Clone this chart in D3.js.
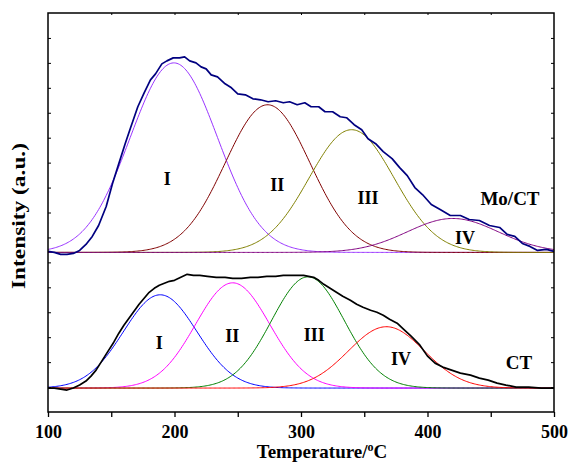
<!DOCTYPE html>
<html>
<head>
<meta charset="utf-8">
<script src="https://cdn.jsdelivr.net/npm/d3@7"></script>
<style>
  body { margin: 0; background: #fff; }
  text { font-family: "Liberation Serif", "Times New Roman", serif; font-weight: bold; }
</style>
</head>
<body>
<div class="chart-wrapper"></div>
<script>
// Mo/CT measured profile (temperature, intensity above its own baseline)
var moTemps = [100,105,110,115,120,125,130,135,140,146,151,156,161,165,171,176,181,185,190,194,199,204,208,212,217,221,225,229,234,240,245,250,256,262,268,274,280,286,291,297,303,308,314,319,325,331,336,342,348,353,359,365,372,378,384,390,396,403,410,418,426,433,441,449,457,463,469,475,481,487,494,500];
var moVals  = [1,0,-2,-2,-1,2,8,16,27,46,69,89,109,124,146,160,173,179,189,192,195,195,196,192,190,186,184,178,176,169,165,159,158,154,153,151,152,150,151,148,150,146,146,141,141,136,135,128,123,114,109,101,94,85,77,65,58,48,43,37,37,33,32,27,25,18,16,9,6,2,3,1];

// CT measured profile
var ctTemps = [100,105,110,115,120,125,130,134,138,142,147,152,156,160,164,168,172,176,180,184,188,192,196,200,205,210,215,220,226,233,240,246,253,260,266,273,280,286,294,302,306,310,314,318,323,328,333,339,344,349,355,360,365,370,376,381,387,394,400,406,412,419,426,434,441,448,455,462,470,480,490,500];
var ctVals  = [0,0,-1,-2,0,3,7,12,18,26,36,46,55,63,70,77,84,90,96,100,103,105,107,108,111,114,113,113,112,111,111,110,110,111,111,112,112,113,113,113,112,111,108,104,100,96,92,88,84,81,78,76,73,69,65,59,52,43,32,25,21,18,15,13,10,8,5,3,1,1,0,0];

// fitted peaks
var peakNames = ["I", "II", "III", "IV"];
var moCenters = [199.5, 273.6, 340, 420];
var moHeights = [190, 148, 123, 34];
var moWidths  = [34.5, 33.5, 33.6, 36];
var ctCenters = [188.7, 246, 305.5, 367.5];
var ctHeights = [93.5, 105.5, 111.5, 61.5];
var ctWidths  = [29, 29.3, 28.8, 30];

// panel baselines on the intensity axis
var moBase = 160, ctBase = 24;

// label anchors (temperature, intensity)
var moLabelT = [194.2, 281.2, 353, 429.7];
var moLabelV = [228, 222, 209, 168];
var ctLabelT = [187.9, 245.6, 310.4, 379.1];
var ctLabelV = [63, 70, 71, 47];

var xTicks = [100, 200, 300, 400, 500];

var moColor = "#000080";
var moPeakColors = ["#9933ff", "#800000", "#808000", "#800080"];
var ctColor = "#000000";
var ctPeakColors = ["#0000ff", "#ff00ff", "#008000", "#ff0000"];

var margin = {top: 13, right: 14, bottom: 51, left: 48},
    width = 568 - margin.left - margin.right,
    height = 463 - margin.top - margin.bottom;

var x = d3.scaleLinear().domain([100, 500]).range([0, width]);
var y = d3.scaleLinear().domain([0, 400]).range([height, 0]);

var svg = d3.select(".chart-wrapper").append("svg")
  .attr("width", 568)
  .attr("height", 463);

var g = svg.append("g")
  .attr("transform", "translate(" + margin.left + "," + margin.top + ")");

var line = d3.line()
  .x(function(d){ return x(d[0]); })
  .y(function(d){ return y(d[1]); });

function gaussian(t, c, h, w){
  return h * Math.exp(-(t - c) * (t - c) / (2 * w * w));
}

var grid = d3.range(100, 500.5, 1);

function drawPeaks(centers, heights, widths, colors, base){
  centers.forEach(function(c, i){
    var pts = grid.map(function(t){ return [t, base + gaussian(t, c, heights[i], widths[i])]; });
    g.append("path")
      .attr("d", line(pts))
      .attr("fill", "none")
      .attr("stroke", colors[i])
      .attr("stroke-width", 1);
  });
}

function drawProfile(temps, vals, base, color){
  var pts = temps.map(function(t, i){ return [t, base + vals[i]]; });
  g.append("path")
    .attr("d", line(pts))
    .attr("fill", "none")
    .attr("stroke", color)
    .attr("stroke-width", 1.7)
    .attr("stroke-linejoin", "round");
}

drawPeaks(moCenters, moHeights, moWidths, moPeakColors, moBase);
drawProfile(moTemps, moVals, moBase, moColor);
drawPeaks(ctCenters, ctHeights, ctWidths, ctPeakColors, ctBase);
drawProfile(ctTemps, ctVals, ctBase, ctColor);

// peak labels
function drawLabels(ts, vs){
  ts.forEach(function(t, i){
    g.append("text")
      .attr("x", x(t))
      .attr("y", y(vs[i]))
      .attr("text-anchor", "middle")
      .style("font-size", "18px")
      .text(peakNames[i]);
  });
}
drawLabels(moLabelT, moLabelV);
drawLabels(ctLabelT, ctLabelV);

g.append("text")
  .attr("x", x(465.2)).attr("y", y(208))
  .attr("text-anchor", "middle")
  .style("font-size", "19px")
  .text("Mo/CT");

g.append("text")
  .attr("x", x(472.3)).attr("y", y(43))
  .attr("text-anchor", "middle")
  .style("font-size", "19px")
  .text("CT");

// axes
var xAxis = g.append("g")
  .attr("transform", "translate(0," + height + ")")
  .call(d3.axisBottom(x).tickValues(d3.range(100, 501, 50)).tickSize(5).tickFormat(function(d){
    return xTicks.indexOf(d) >= 0 ? d : "";
  }));
xAxis.select(".domain").remove();
xAxis.selectAll("line").attr("stroke-width", 1.3);
xAxis.selectAll("text")
  .attr("dy", "1.0em")
  .style("font-size", "18px")
  .attr("fill", "#000");

var xTop = g.append("g")
  .call(d3.axisBottom(x).tickValues(d3.range(150, 500, 50)).tickSize(2).tickFormat(""));
xTop.select(".domain").remove();

var yLeft = g.append("g")
  .call(d3.axisRight(y).tickValues(d3.range(25, 400, 25)).tickSize(3).tickFormat(""));
yLeft.select(".domain").remove();

var yRight = g.append("g")
  .attr("transform", "translate(" + width + ",0)")
  .call(d3.axisLeft(y).tickValues(d3.range(25, 400, 25)).tickSize(3).tickFormat(""));
yRight.select(".domain").remove();

g.append("rect")
  .attr("width", width)
  .attr("height", height)
  .attr("fill", "none")
  .attr("stroke", "#000")
  .attr("stroke-width", 1.5);

// axis titles
var xt = svg.append("text")
  .attr("x", 322)
  .attr("y", 458)
  .attr("text-anchor", "middle")
  .style("font-size", "19px");
xt.append("tspan").text("Temperature/");
xt.append("tspan").attr("dy", -7).style("font-size", "12px").text("o");
xt.append("tspan").attr("dy", 7).text("C");

svg.append("text")
  .attr("transform", "translate(25,216) rotate(-90)")
  .attr("text-anchor", "middle")
  .attr("textLength", 146)
  .attr("lengthAdjust", "spacingAndGlyphs")
  .style("font-size", "19px")
  .text("Intensity (a.u.)");
</script>
</body>
</html>
